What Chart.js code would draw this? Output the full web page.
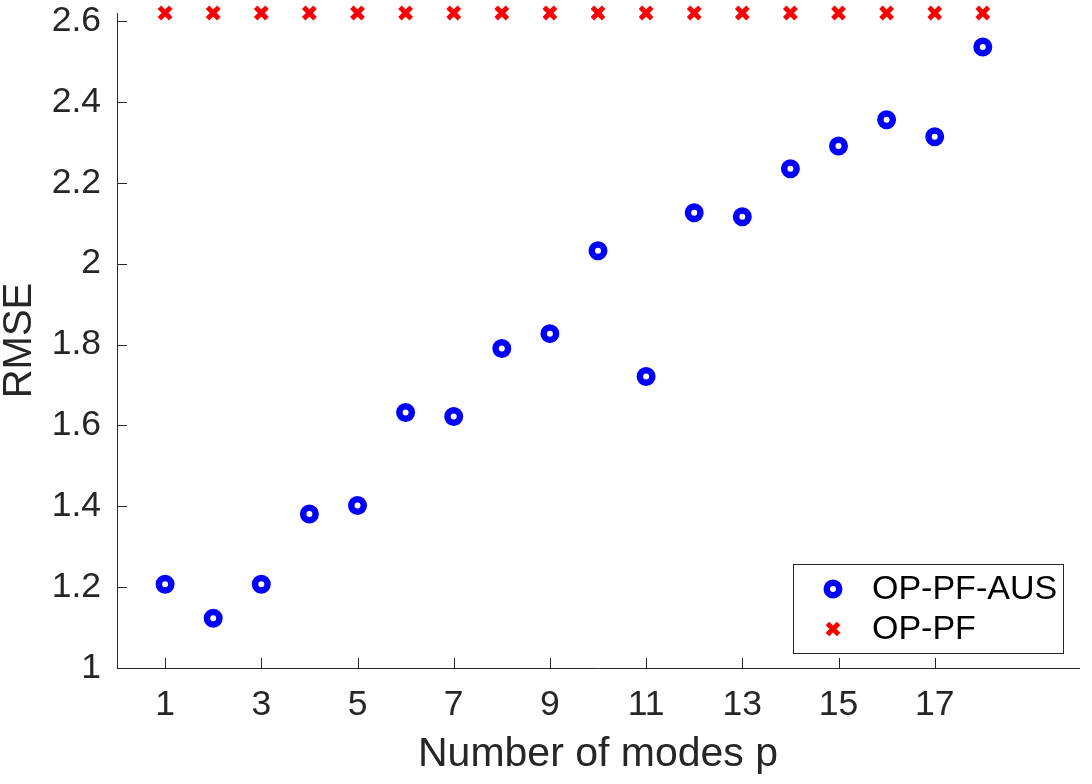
<!DOCTYPE html>
<html>
<head>
<meta charset="utf-8">
<script src="https://cdn.jsdelivr.net/npm/chart.js@4/dist/chart.umd.min.js"></script>
<style>
  html, body { margin: 0; padding: 0; background: #fff; }
  #wrap { width: 1092px; height: 784px; }
</style>
</head>
<body>
<div id="wrap"><canvas id="rmseChart" width="1092" height="784"></canvas></div>
<script>
// number of modes p
const modes = [1, 2, 3, 4, 5, 6, 7, 8, 9, 10, 11, 12, 13, 14, 15, 16, 17, 18];
// RMSE values
const rmseAUS = [1.207, 1.123, 1.207, 1.381, 1.402, 1.632, 1.622, 1.790, 1.827, 2.032,
                 1.721, 2.126, 2.116, 2.235, 2.291, 2.356, 2.314, 2.536];
const rmsePF = [2.62, 2.62, 2.62, 2.62, 2.62, 2.62, 2.62, 2.62, 2.62, 2.62,
                2.62, 2.62, 2.62, 2.62, 2.62, 2.62, 2.62, 2.62];
const xTicks = [1, 3, 5, 7, 9, 11, 13, 15, 17];
const yTicks = [1, 1.2, 1.4, 1.6, 1.8, 2, 2.2, 2.4, 2.6];

const axisColor = '#262626';
const fontFamily = '"Liberation Sans", Arial, Helvetica, sans-serif';

function toPoints(xs, ys) {
    return xs.map((x, i) => ({ x: x, y: ys[i] }));
}

// inward tick marks, MATLAB style
const innerTicks = {
    id: 'innerTicks',
    afterDraw(chart) {
        const ctx = chart.ctx;
        const xs = chart.scales.x, ys = chart.scales.y;
        const len = 10;
        ctx.save();
        ctx.strokeStyle = axisColor;
        ctx.lineWidth = 1;
        ctx.beginPath();
        xs.ticks.forEach(t => {
            const px = Math.round(xs.getPixelForValue(t.value)) + 0.5;
            ctx.moveTo(px, ys.bottom);
            ctx.lineTo(px, ys.bottom - len);
        });
        ys.ticks.forEach(t => {
            const py = Math.round(ys.getPixelForValue(t.value)) + 0.5;
            ctx.moveTo(xs.left, py);
            ctx.lineTo(xs.left + len, py);
        });
        ctx.stroke();
        ctx.restore();
    }
};

// legend box in the lower right corner of the axes
const cornerLegend = {
    id: 'cornerLegend',
    afterDraw(chart) {
        const ctx = chart.ctx;
        const area = chart.chartArea;
        const w = 270, h = 89;
        const x0 = area.right - 16 - w;
        const y0 = area.bottom - 15 - h;
        ctx.save();
        ctx.fillStyle = '#fff';
        ctx.fillRect(x0, y0, w, h);
        ctx.strokeStyle = axisColor;
        ctx.lineWidth = 1;
        ctx.strokeRect(x0 + 0.5, y0 + 0.5, w, h);

        const sets = chart.data.datasets;
        const rows = [y0 + 25, y0 + 65];
        const mx = x0 + 40;
        // circle marker
        ctx.beginPath();
        ctx.arc(mx, rows[0], 6.25, 0, Math.PI * 2);
        ctx.strokeStyle = sets[0].borderColor;
        ctx.lineWidth = 6.5;
        ctx.stroke();
        // cross marker
        const d = 5.6;
        ctx.beginPath();
        ctx.moveTo(mx - d, rows[1] - d); ctx.lineTo(mx + d, rows[1] + d);
        ctx.moveTo(mx + d, rows[1] - d); ctx.lineTo(mx - d, rows[1] + d);
        ctx.strokeStyle = sets[1].borderColor;
        ctx.lineWidth = 5;
        ctx.stroke();

        ctx.fillStyle = '#000';
        ctx.font = '34px ' + fontFamily;
        ctx.textBaseline = 'middle';
        ctx.textAlign = 'left';
        ctx.fillText(sets[0].label, x0 + 79, rows[0] + 1);
        ctx.fillText(sets[1].label, x0 + 79, rows[1] + 1);
        ctx.restore();
    }
};

const ctx = document.getElementById('rmseChart').getContext('2d');
const chart = new Chart(ctx, {
    type: 'scatter',
    data: {
        datasets: [{
            label: 'OP-PF-AUS',
            data: toPoints(modes, rmseAUS),
            pointStyle: 'circle',
            pointRadius: 6.25,
            pointBorderWidth: 6.5,
            borderColor: '#0000ff',
            backgroundColor: '#ffffff',
            pointHoverRadius: 6.25,
            clip: false
        }, {
            label: 'OP-PF',
            data: toPoints(modes, rmsePF),
            pointStyle: 'crossRot',
            pointRadius: 8,
            pointBorderWidth: 5,
            borderColor: '#ff0000',
            backgroundColor: '#ff0000',
            pointHoverRadius: 8,
            clip: false
        }]
    },
    options: {
        responsive: false,
        animation: false,
        layout: { padding: { top: 13, right: 9, left: 0, bottom: 0 } },
        plugins: {
            legend: { display: false },
            tooltip: { enabled: false }
        },
        scales: {
            x: {
                type: 'linear',
                min: 0,
                max: 20,
                afterBuildTicks: s => { s.ticks = xTicks.map(v => ({ value: v })); },
                afterFit: s => { s.height = 116; s.paddingRight = 0; },
                grid: { drawOnChartArea: false, drawTicks: false },
                border: { display: true, color: axisColor, width: 1 },
                ticks: {
                    color: axisColor,
                    font: { family: fontFamily, size: 35.5 },
                    padding: 16,
                    maxRotation: 0,
                    autoSkip: false
                },
                title: {
                    display: true,
                    text: 'Number of modes p',
                    color: axisColor,
                    font: { family: fontFamily, size: 41, lineHeight: 1 },
                    padding: { top: 0, bottom: 9 }
                }
            },
            y: {
                type: 'linear',
                min: 1,
                max: 2.62,
                afterBuildTicks: s => { s.ticks = yTicks.map(v => ({ value: v })); },
                afterFit: s => { s.width = 117; s.paddingTop = 0; },
                grid: { drawOnChartArea: false, drawTicks: false },
                border: { display: true, color: axisColor, width: 1 },
                ticks: {
                    color: axisColor,
                    font: { family: fontFamily, size: 35.5, lineHeight: 1 },
                    padding: 16,
                    callback: v => String(+v.toFixed(1))
                },
                title: {
                    display: true,
                    text: 'RMSE',
                    color: axisColor,
                    font: { family: fontFamily, size: 40, lineHeight: 1 },
                    padding: { top: 0, bottom: 0 }
                }
            }
        }
    },
    plugins: [innerTicks, cornerLegend]
});
</script>
</body>
</html>
